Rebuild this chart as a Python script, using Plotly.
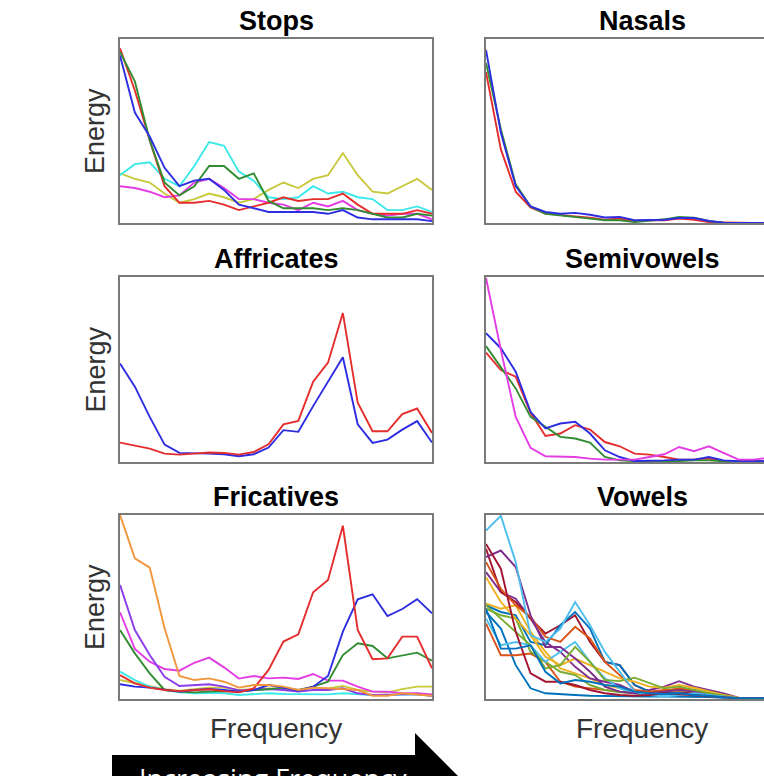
import plotly.graph_objects as go

W, H = 764, 776

# frequency bins (22 bins per spectrum)
freq_bins = list(range(22))

# ---------------- Stops ----------------
stops_blue = [91, 60, 47, 30, 20, 23, 24, 18, 10, 8, 6, 6, 6, 6, 5, 7, 3, 2, 2, 2, 2, 1]
stops_green = [93, 77, 45, 22, 15, 20, 31, 31, 24, 27, 12, 8, 8, 8, 7, 8, 7, 5, 3, 3, 5, 4]
stops_red = [95, 72, 45, 20, 11, 11, 12, 10, 7, 9, 11, 14, 12, 13, 13, 16, 10, 5, 5, 5, 7, 5]
stops_cyan = [26, 32, 33, 24, 20, 31, 44, 42, 28, 23, 14, 13, 14, 20, 16, 17, 14, 13, 7, 7, 9, 6]
stops_magenta = [20, 19, 17, 14, 15, 22, 24, 19, 13, 13, 11, 10, 7, 11, 9, 12, 7, 5, 4, 5, 5, 2]
stops_yellow = [27, 24, 22, 16, 11, 13, 16, 14, 11, 13, 18, 22, 19, 24, 26, 38, 26, 17, 16, 20, 24, 18]

# ---------------- Nasals ----------------
nasals_blue = [94, 49, 20, 9, 6, 5, 5.5, 4.5, 3, 3.3, 1.5, 1.5, 1.8, 2.7, 2.7, 1.1, 0.2, 0, 0, 0, 0, 0]
nasals_green = [87, 51, 21, 9, 5, 4, 3.3, 2.4, 1.5, 1.5, 0.5, 1.1, 2, 3.3, 2.9, 1.1, 0.2, 0, 0, 0, 0, 0]
nasals_red = [82, 40, 17, 8.4, 5.1, 4.2, 3.6, 2.9, 1.8, 2.4, 1.1, 1.5, 1.5, 2.4, 1.8, 0.5, 0.2, 0, 0, 0, 0, 0]

# ---------------- Affricates ----------------
affr_blue = [53.3, 40.7, 24.4, 9.4, 4.9, 4.9, 4.5, 4.2, 3.1, 4.2, 7.8, 17.2, 16.3, 30.2, 43.4, 56.6, 20.4, 10.3, 12.1, 17.5, 22.1, 10.5]
affr_red = [10.5, 9, 7.2, 4.5, 4, 4.5, 5.1, 4.9, 4, 5.4, 9.6, 20.3, 22.2, 43.4, 53.7, 80.5, 32, 16.6, 16.6, 25.9, 28.9, 15.7]

# ---------------- Semivowels ----------------
semi_magenta = [99.5, 60.6, 24.4, 7.6, 3.1, 2.7, 2.7, 1.8, 1.3, 1.3, 1.3, 2.7, 4.2, 8.1, 5.8, 8.5, 4.9, 1.3, 1.3, 2.2, 2.2, 2.2]
semi_blue = [69.6, 61.5, 48.8, 27.1, 18.1, 20.8, 21.7, 15.4, 6.3, 2.7, 0.5, 0.5, 0.9, 1.3, 1.3, 2.7, 0.9, 0.4, 0.4, 0.4, 0.4, 0.4]
semi_green = [62.7, 51.5, 39.8, 24.4, 19, 13.6, 12.7, 10.5, 2.7, 0.9, 0.5, 0.4, 0.4, 0.5, 0.9, 0.9, 0.4, 0.4, 0.4, 0.4, 0.4, 0.4]
semi_red = [59.1, 49.7, 46.1, 26.6, 14.1, 15.4, 19.9, 17.5, 10.8, 8.5, 4.5, 4, 2.7, 1.3, 1.3, 1.8, 0.5, 0.4, 0.4, 0.4, 0.4, 0.4]

# ---------------- Fricatives ----------------
fric_orange = [100, 76.4, 71.4, 38.4, 12.5, 10.3, 11.2, 9.4, 6.2, 7.6, 7.6, 6.7, 4.9, 6.2, 5.8, 5.4, 4.9, 1.8, 1.8, 3.1, 2.5, 1.8]
fric_red = [13, 8.5, 6.2, 4.9, 4.3, 4.9, 5.3, 4.3, 3.6, 5.8, 15.8, 31.2, 35.1, 58, 64.7, 94.2, 37.5, 21.6, 22.1, 33.9, 33.9, 16.7]
fric_blue = [8, 6.7, 6.2, 4.9, 4, 4.9, 5.4, 4.9, 4, 4.9, 7.6, 6.2, 4.5, 6.7, 12.5, 36.6, 54.2, 56.9, 45.1, 48.9, 54.3, 46.6]
fric_green = [37.5, 24.8, 13.9, 4.9, 4, 3.6, 4, 4.3, 4, 4.9, 5.3, 6.2, 4.9, 6.7, 9.4, 23.9, 30.3, 28.8, 22.1, 23.6, 25.2, 20.8]
fric_purple = [62, 37.5, 23.9, 12.1, 7.1, 7.6, 8, 6.7, 4.7, 4.9, 5.4, 4.9, 4, 4.9, 4.9, 5.8, 3.1, 2.2, 2.5, 2.5, 2.5, 1.8]
fric_magenta = [47.1, 27.2, 20.3, 16.3, 15.4, 19.7, 22.5, 17.2, 11.1, 12.5, 11.2, 11.6, 10.9, 13.6, 10, 10, 6.7, 4, 4, 3.1, 3.1, 2.5]
fric_cyan = [14.9, 10.3, 6.7, 4.9, 3.6, 3.1, 3.4, 3.1, 2.2, 2.5, 3.1, 2.7, 2.7, 2.5, 2.5, 3.1, 2.5, 2.2, 2.2, 2.5, 2.5, 1.8]
fric_yellow = [10.3, 8.5, 6.7, 5.3, 4.5, 5.4, 6.2, 6.2, 4.9, 5.3, 5.8, 5.4, 4.3, 6.2, 5.8, 7.1, 4.9, 4, 3.6, 5.4, 6.7, 6.7]

# ---------------- Vowels ----------------
vow_lightblue1 = [91.5, 99.6, 74.4, 34.7, 31, 38.3, 52.7, 40.1, 25.6, 14.8, 4, 2.2, 1.3, 2.2, 3.1, 2.2, 1.3, 0.4, 0.4, 0.4, 0.4, 0.4]
vow_lightblue2 = [43.7, 29.2, 31, 29.2, 20.2, 25.6, 31, 20.2, 11.2, 5.8, 3.1, 2.5, 2.2, 3.1, 2.2, 1.6, 0.9, 0.4, 0.4, 0.4, 0.4, 0.4]
vow_blue1 = [50.9, 47.3, 45.5, 31, 29.2, 40.1, 47.3, 38.3, 20.2, 18.4, 7.6, 4, 3.1, 3.1, 2.5, 2.2, 1.3, 0.4, 0.4, 0.4, 0.4, 0.4]
vow_blue2 = [49.1, 27.4, 27.4, 29.2, 14.8, 8.5, 10.3, 9.4, 7.6, 6.7, 4, 3.1, 2.7, 3.1, 2.2, 1.8, 0.9, 0.4, 0.4, 0.4, 0.4, 0.4]
vow_blue3 = [47.3, 38.3, 18.4, 5.8, 3.1, 2.5, 2.2, 1.8, 1.6, 1.3, 1.3, 1.3, 1.3, 1.3, 1.3, 1.1, 0.7, 0.4, 0.4, 0.4, 0.4, 0.4]
vow_darkred1 = [84.3, 70.8, 36.5, 13.9, 9.4, 9.4, 7.6, 4.9, 3.1, 2.2, 1.8, 2.2, 3.1, 2.5, 2.2, 1.6, 0.9, 0.4, 0.4, 0.4, 0.4, 0.4]
vow_darkred2 = [81.6, 58.1, 52.7, 43.7, 35.6, 40.1, 45.5, 31, 20.2, 18.4, 7.6, 4, 3.1, 3.4, 3.1, 2.2, 1.3, 0.4, 0.4, 0.4, 0.4, 0.4]
vow_purple1 = [77.1, 80.7, 71.7, 45.5, 28.3, 28.3, 22, 14.8, 6.7, 4, 3.1, 3.1, 4, 4.9, 4, 2.5, 1.3, 0.4, 0.4, 0.4, 0.4, 0.4]
vow_purple2 = [69, 58.1, 54.5, 43.7, 31, 25.6, 17.5, 11.2, 9.4, 7.6, 4, 4.9, 6.7, 9.7, 6.7, 4.9, 3.1, 0.7, 0.4, 0.4, 0.4, 0.4]
vow_orange1 = [74.4, 59.9, 50.9, 44.6, 33.8, 31, 39.2, 32.9, 20.2, 13, 4.9, 4, 4.3, 5.8, 4.9, 3.1, 1.8, 0.4, 0.4, 0.4, 0.4, 0.4]
vow_orange2 = [41, 23.8, 23.8, 24.7, 20.2, 9.4, 6.7, 5.8, 4.9, 4, 3.6, 4, 4.9, 5.2, 4.3, 3.1, 1.6, 0.4, 0.4, 0.4, 0.4, 0.4]
vow_yellow1 = [66.2, 52.7, 43.7, 34.7, 22.9, 18.4, 22, 18.4, 14.8, 11.2, 9.4, 6.7, 6.1, 7.6, 6.1, 4, 2.2, 0.7, 0.4, 0.4, 0.4, 0.4]
vow_yellow2 = [51.8, 49.1, 50.9, 36.5, 25.6, 16.6, 13.9, 11.2, 7.6, 5.8, 4.3, 3.6, 4, 4.3, 3.6, 2.5, 1.3, 0.4, 0.4, 0.4, 0.4, 0.4]
vow_green1 = [50.9, 43.7, 36.5, 29.2, 16.6, 18.4, 28.3, 20.2, 10.3, 9.7, 11.6, 8.5, 5.8, 6.7, 4.9, 3.1, 1.8, 0.4, 0.4, 0.4, 0.4, 0.4]
vow_green2 = [49.1, 45.5, 43.7, 25.6, 20.2, 14.8, 13, 7.6, 4.9, 3.6, 3.1, 2.5, 2.5, 3.1, 2.5, 1.8, 1.1, 0.4, 0.4, 0.4, 0.4, 0.4]

titles = ["Stops", "Nasals", "Affricates", "Semivowels", "Fricatives", "Vowels"]
y_label = "Energy"
x_label = "Frequency"
arrow_text = "Increasing Frequency"

# colours
B, G, R = "rgb(45,45,225)", "rgb(50,140,50)", "rgb(228,45,45)"
C, M, Y = "rgb(60,232,232)", "rgb(228,60,228)", "rgb(200,200,60)"
O, P = "rgb(242,150,60)", "rgb(140,60,232)"
MB, MO, MY, MP, MG, MC, MR = "#0072BD", "#D95319", "#EDB120", "#7E2F8E", "#77AC30", "#4DBEEE", "#A2142F"

panels = [
    [(stops_yellow, Y), (stops_magenta, M), (stops_cyan, C), (stops_red, R), (stops_green, G), (stops_blue, B)],
    [(nasals_red, R), (nasals_green, G), (nasals_blue, B)],
    [(affr_blue, B), (affr_red, R)],
    [(semi_red, R), (semi_green, G), (semi_blue, B), (semi_magenta, M)],
    [(fric_yellow, Y), (fric_cyan, C), (fric_magenta, M), (fric_purple, P), (fric_green, G),
     (fric_blue, B), (fric_red, R), (fric_orange, O)],
    [(vow_blue3, MB), (vow_orange2, MO), (vow_yellow2, MY), (vow_purple2, MP), (vow_green2, MG),
     (vow_lightblue2, MC), (vow_darkred2, MR), (vow_blue1, MB), (vow_orange1, MO), (vow_yellow1, MY),
     (vow_purple1, MP), (vow_green1, MG), (vow_lightblue1, MC), (vow_darkred1, MR), (vow_blue2, MB)],
]

# layout in pixels
left_x0, left_x1 = 120, 432
right_x0 = 486
plot_w = left_x1 - left_x0
rows_px = [(39, 223), (277, 462), (515, 699)]


def px(x):
    return x / W


def py(y):
    return 1 - y / H


fig = go.Figure()
layout = dict(
    width=W, height=H, margin=dict(l=0, r=0, t=0, b=0),
    paper_bgcolor="white", plot_bgcolor="white", showlegend=False,
)
annotations = []
frame = "#7a7a7a"
for i, series in enumerate(panels):
    r, c = divmod(i, 2)
    n = i + 1
    xa = "x" if n == 1 else f"x{n}"
    ya = "y" if n == 1 else f"y{n}"
    for vals, col in series:
        fig.add_trace(go.Scatter(x=freq_bins, y=vals, mode="lines",
                                 line=dict(color=col, width=1.9), xaxis=xa, yaxis=ya,
                                 hoverinfo="skip"))
    y0, y1 = rows_px[r]
    if c == 0:
        dom_x = [px(left_x0), px(left_x1)]
        xr = [0, 21]
        ymirror = True
    else:
        dom_x = [px(right_x0), 1.0]
        xr = [0, 21 * (W - right_x0) / plot_w]
        ymirror = False
    xkey = "xaxis" if n == 1 else f"xaxis{n}"
    ykey = "yaxis" if n == 1 else f"yaxis{n}"
    layout[xkey] = dict(domain=dom_x, range=xr, anchor=ya, showline=True, mirror=True,
                        linecolor=frame, linewidth=2, showticklabels=False, ticks="",
                        showgrid=False, zeroline=False, fixedrange=True)
    layout[ykey] = dict(domain=[py(y1), py(y0)], range=[0, 100], anchor=xa, showline=True,
                        mirror=ymirror, linecolor=frame, linewidth=2, showticklabels=False,
                        ticks="", showgrid=False, zeroline=False, fixedrange=True)
    cx = (left_x0 + left_x1) / 2 if c == 0 else right_x0 + plot_w / 2
    annotations.append(dict(text=f"<b>{titles[i]}</b>", x=px(cx), y=py(y0 - 18), xref="paper",
                            yref="paper", xanchor="center", yanchor="middle", showarrow=False,
                            font=dict(family="Liberation Sans, Arial", size=27, color="black")))
    if c == 0:
        annotations.append(dict(text=y_label, x=px(95), y=py((y0 + y1) / 2), xref="paper",
                                yref="paper", xanchor="center", yanchor="middle", showarrow=False,
                                textangle=-90,
                                font=dict(family="Liberation Sans, Arial", size=27, color="#333333")))
    if r == 2:
        annotations.append(dict(text=x_label, x=px(cx), y=py(728), xref="paper", yref="paper",
                                xanchor="center", yanchor="middle", showarrow=False,
                                font=dict(family="Liberation Sans, Arial", size=28, color="#333333")))

# arrow
body_top, body_bot = 755, 800
head_top, head_x0 = 733, 415
cy = (body_top + body_bot) / 2
tip_x = head_x0 + (cy - head_top)
path = (f"M {px(112)},{py(body_top)} L {px(head_x0)},{py(body_top)} L {px(head_x0)},{py(head_top)} "
        f"L {px(tip_x)},{py(cy)} L {px(head_x0)},{py(2*cy-head_top)} L {px(head_x0)},{py(body_bot)} "
        f"L {px(112)},{py(body_bot)} Z")
layout["shapes"] = [dict(type="path", path=path, xref="paper", yref="paper",
                         fillcolor="black", line=dict(width=0), layer="above")]
annotations.append(dict(text=arrow_text, x=px(137), y=py(758), xref="paper", yref="paper",
                        xanchor="left", yanchor="top", showarrow=False,
                        font=dict(family="Open Sans, Liberation Sans", size=27, color="white")))
layout["annotations"] = annotations
fig.update_layout(**layout)
fig.write_html("out.html")
